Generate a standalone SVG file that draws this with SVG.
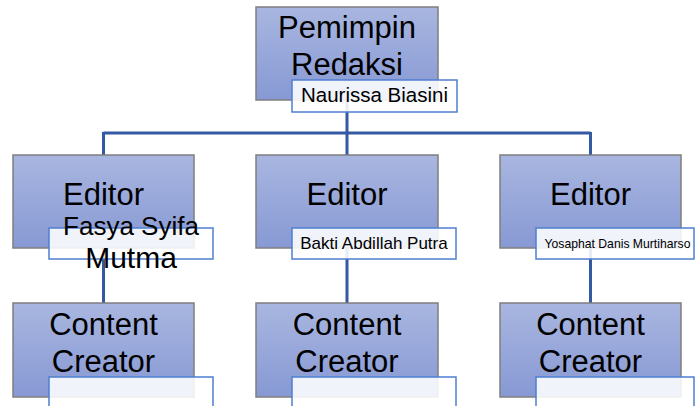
<svg xmlns="http://www.w3.org/2000/svg" width="695" height="406" viewBox="0 0 695 406">
<defs>
<linearGradient id="g" x1="0" y1="0" x2="0" y2="1">
<stop offset="0" stop-color="#a9b6e0"/>
<stop offset="1" stop-color="#8799d4"/>
</linearGradient>
<style>
.box{fill:url(#g);stroke:#7f7f7f;stroke-width:1.5}
.nm{fill:#ffffff;fill-opacity:0.88;stroke:#4f7fcf;stroke-width:1.5}
.t{font-family:"Liberation Sans",Arial,sans-serif;fill:#000;text-anchor:middle}
.c{fill:none;stroke:#3459a3;stroke-width:3}
</style>
</defs>
<rect width="695" height="406" fill="#ffffff"/>
<g id="connectors">
<path class="c" d="M347 100V133M103.5 133H590.5M103.5 132V155M347 133V155M590.5 132V155M103.5 248V303M347 248V303M590.5 248V303"/>
</g>
<g id="pemimpin">
<rect class="box" x="256" y="7" width="182" height="93"/>
<text class="t" x="347" y="38" font-size="31">Pemimpin</text>
<text class="t" x="347" y="75" font-size="31">Redaksi</text>
<rect class="nm" x="292" y="80" width="165" height="32"/>
<text class="t" x="374.5" y="102" font-size="20.5">Naurissa Biasini</text>
</g>
<g id="editor1">
<rect class="box" x="13" y="155" width="181" height="93"/>
<text class="t" x="103.5" y="205" font-size="31">Editor</text>
<rect class="nm" x="49" y="228" width="164" height="31"/>
<text class="t" x="131" y="235" font-size="26">Fasya Syifa</text>
<text class="t" x="131" y="268" font-size="30">Mutma</text>
</g>
<g id="editor2">
<rect class="box" x="256" y="155" width="182" height="93"/>
<text class="t" x="347" y="205" font-size="31">Editor</text>
<rect class="nm" x="292" y="228" width="164" height="31"/>
<text class="t" x="374" y="249" font-size="17">Bakti Abdillah Putra</text>
</g>
<g id="editor3">
<rect class="box" x="500" y="155" width="181" height="93"/>
<text class="t" x="590.5" y="205" font-size="31">Editor</text>
<rect class="nm" x="536" y="228" width="158" height="31"/>
<text class="t" x="617.5" y="248" font-size="12.2">Yosaphat Danis Murtiharso</text>
</g>
<g id="creator1">
<rect class="box" x="13" y="303" width="181" height="94"/>
<text class="t" x="103.5" y="335" font-size="31">Content</text>
<text class="t" x="103.5" y="372" font-size="31">Creator</text>
<rect class="nm" x="49" y="377" width="164" height="40"/>
</g>
<g id="creator2">
<rect class="box" x="256" y="303" width="182" height="94"/>
<text class="t" x="347" y="335" font-size="31">Content</text>
<text class="t" x="347" y="372" font-size="31">Creator</text>
<rect class="nm" x="292" y="377" width="164" height="40"/>
</g>
<g id="creator3">
<rect class="box" x="500" y="303" width="181" height="94"/>
<text class="t" x="590.5" y="335" font-size="31">Content</text>
<text class="t" x="590.5" y="372" font-size="31">Creator</text>
<rect class="nm" x="536" y="377" width="158" height="40"/>
</g>
</svg>
